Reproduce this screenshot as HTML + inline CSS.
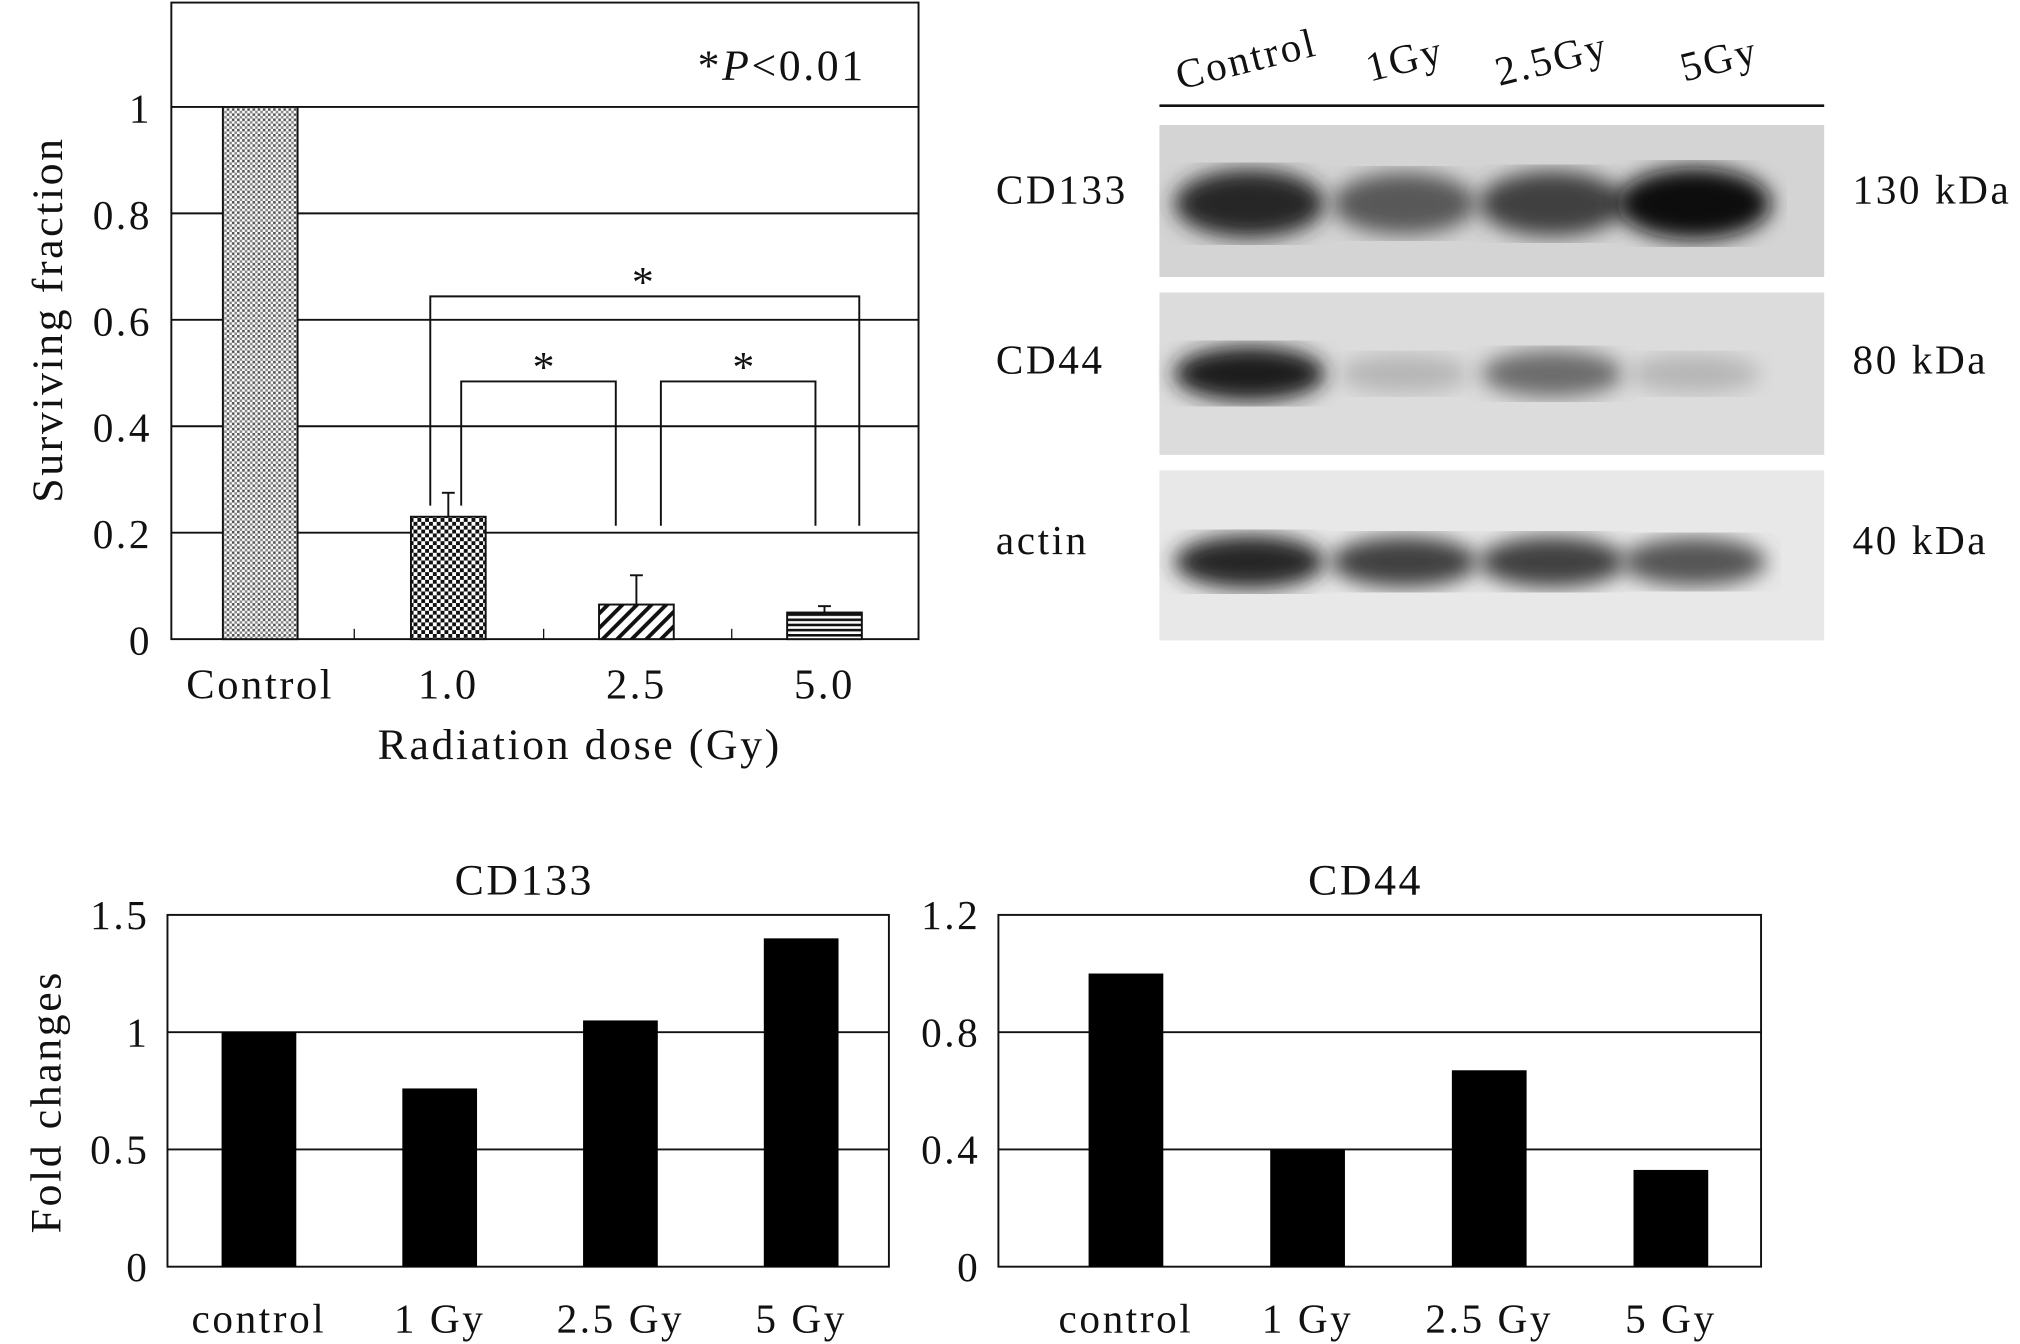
<!DOCTYPE html>
<html><head><meta charset="utf-8"><style>
html,body{margin:0;padding:0;background:#fff}
svg{display:block}
text{font-family:"Liberation Serif",serif;fill:#111;letter-spacing:2px}
</style></head><body>
<svg width="2020" height="1344" viewBox="0 0 1568 1043" preserveAspectRatio="none" xmlns="http://www.w3.org/2000/svg">
<defs>
<pattern id="dots" width="4" height="4" patternUnits="userSpaceOnUse"><rect width="4" height="4" fill="#fff"/><rect width="2" height="2" fill="#555"/><rect x="2" y="2" width="2" height="2" fill="#888"/></pattern>
<pattern id="check" width="6" height="6" patternUnits="userSpaceOnUse"><rect width="6" height="6" fill="#fff"/><rect width="3" height="3" fill="#111"/><rect x="3" y="3" width="3" height="3" fill="#111"/></pattern>
<pattern id="diag" width="8" height="8" patternUnits="userSpaceOnUse" patternTransform="rotate(45)"><rect width="8" height="8" fill="#fff"/><rect width="3" height="8" fill="#111"/></pattern>
<pattern id="horiz" width="4" height="4" patternUnits="userSpaceOnUse"><rect width="4" height="4" fill="#fff"/><rect width="4" height="2" fill="#111"/></pattern>
<filter id="blur"><feGaussianBlur stdDeviation="8"/></filter>
</defs>
<g id="top"></g>
<g id="blot"></g>
<g id="b1"></g>
<g id="b2"></g>
</svg>
<script>
const NS='http://www.w3.org/2000/svg';
function mk(p,tag,a,txt){const e=document.createElementNS(NS,tag);for(const k in a)e.setAttribute(k,a[k]);if(txt!==undefined)e.textContent=txt;p.appendChild(e);return e;}

const topCats=['Control','1.0','2.5','5.0'];
const topVals=[1.0,0.23,0.065,0.05];
const topErr=[0,0.045,0.055,0.012];
const topTicks=['0','0.2','0.4','0.6','0.8','1'];
const topFills=['url(#dots)','url(#check)','url(#diag)','url(#horiz)'];
const cats2=['control','1 Gy','2.5 Gy','5 Gy'];
const cd133Vals=[1.0,0.76,1.05,1.4];
const cd133Ticks=['0','0.5','1','1.5'];
const cd44Vals=[1.0,0.40,0.67,0.33];
const cd44Ticks=['0','0.4','0.8','1.2'];
const blotLanes=['Control','1Gy','2.5Gy','5Gy'];
const cd133Band=[0.85,0.6,0.72,1.0];
const cd44Band=[0.9,0.12,0.5,0.12];
const actinBand=[0.85,0.72,0.72,0.62];

(function(){
const g=document.getElementById('top');
const L=133,R=713,T=2,B=496,Y1=83;
const y=v=>B-v*(B-Y1);
const x=i=>202+i*146;
mk(g,'rect',{x:L,y:T,width:R-L,height:B-T,fill:'none',stroke:'#111','stroke-width':1.5});
topTicks.forEach((t,i)=>{const v=i*0.2;const yy=y(v);
 if(v>0){const l=mk(g,'line',{x1:L,x2:R,y1:yy,y2:yy,stroke:'#111','stroke-width':1.5});}
 const tx=mk(g,'text',{x:118,y:yy+12,'font-size':32,'text-anchor':'end'},t);});
[275,422,568].forEach(xx=>mk(g,'line',{x1:xx,x2:xx,y1:B,y2:B-8,stroke:'#111'}));
topVals.forEach((v,i)=>{const r=mk(g,'rect',{x:x(i)-29,y:y(v),width:58,height:B-y(v),fill:topFills[i],stroke:'#111','stroke-width':1.5});
 
 if(topErr[i]>0){const ye=y(v+topErr[i]);mk(g,'line',{x1:x(i),x2:x(i),y1:y(v),y2:ye,stroke:'#111','stroke-width':1.5});mk(g,'line',{x1:x(i)-5,x2:x(i)+5,y1:ye,y2:ye,stroke:'#111','stroke-width':1.5});}
 const t=mk(g,'text',{x:x(i),y:542,'font-size':33,'text-anchor':'middle'},topCats[i]);});
const br=(x1,x2,yt,y1b,y2b,sx,sy)=>{mk(g,'polyline',{points:`${x1},${y1b} ${x1},${yt} ${x2},${yt} ${x2},${y2b}`,fill:'none',stroke:'#111','stroke-width':1.5});const s=mk(g,'text',{x:sx,y:sy,'font-size':34,'text-anchor':'middle'},'*');};
br(334,667,230,y(0.23+0.045)+10,408,500,230);
br(358,478,296,y(0.23+0.045)+10,408,423,296);
br(513,633,296,408,408,578,296);
const p=mk(g,'text',{x:672,y:62,'font-size':34,'text-anchor':'end'});
p.innerHTML='*<tspan font-style="italic">P</tspan>&lt;0.01';
const yt=mk(g,'text',{x:0,y:0,'font-size':34,'text-anchor':'middle',transform:'translate(48,248) rotate(-90)'},'Surviving fraction');
const xt=mk(g,'text',{x:450,y:589,'font-size':34,'text-anchor':'middle'},'Radiation dose (Gy)');
})();

(function(){
const g=document.getElementById('blot');
const lx=[970,1090,1205,1315];
const hx=[970,1093,1207,1337];
blotLanes.forEach((n,i)=>{const t=mk(g,'text',{x:0,y:0,'font-size':32,'text-anchor':'middle',transform:`translate(${hx[i]},${56}) rotate(-14)`},n);});
mk(g,'line',{x1:900,x2:1416,y1:82,y2:82,stroke:'#111','stroke-width':2});
const panels=[['CD133',97,215,cd133Band,'130 kDa',158,'#d4d4d4'],['CD44',227,353,cd44Band,'80 kDa',290,'#dcdcdc'],['actin',365,497,actinBand,'40 kDa',430,'#e8e8e8']];
panels.forEach(([nm,t,b,band,kd,by,bg])=>{
 const pr=mk(g,'rect',{x:900,y:t,width:516,height:b-t,fill:bg});
 band.forEach((v,i)=>{const c=Math.round(205-195*v);const e=mk(g,'ellipse',{cx:lx[i],cy:by+(nm==='actin'?6:0),rx:50+10*v,ry:nm==='CD133'?18+10*v:14+8*v,fill:`rgb(${c},${c},${c})`,filter:'url(#blur)'});});
 const l=mk(g,'text',{x:773,y:by,'font-size':32},nm);
 const k=mk(g,'text',{x:1438,y:by,'font-size':32},kd);
});
})();

function barChart(id,L,R,c0,dx,title,tcx,vals,ticks,maxV,ylab){
 const g=document.getElementById(id);const T=710,B=983;
 const y=v=>B-v/maxV*(B-T);const x=i=>c0+dx*i;
 mk(g,'rect',{x:L,y:T,width:R-L,height:B-T,fill:'none',stroke:'#111','stroke-width':1.5});
 ticks.forEach((t,i)=>{const v=i*maxV/(ticks.length-1);const yy=y(v);
  if(v>0&&i<ticks.length-1){const l=mk(g,'line',{x1:L,x2:R,y1:yy,y2:yy,stroke:'#111','stroke-width':1.5});}
  const tx=mk(g,'text',{x:L-14,y:yy+11,'font-size':32,'text-anchor':'end'},t);});
 vals.forEach((v,i)=>{const r=mk(g,'rect',{x:x(i)-29,y:y(v),width:58,height:B-y(v),fill:'#000'});
  const t=mk(g,'text',{x:x(i),y:1034,'font-size':32,'text-anchor':'middle'},cats2[i]);});
 const tt=mk(g,'text',{x:tcx,y:694,'font-size':34,'text-anchor':'middle'},title);
 if(ylab){const yt=mk(g,'text',{x:0,y:0,'font-size':34,'text-anchor':'middle',transform:'translate(47,855) rotate(-90)'},ylab);}
}
barChart('b1',130,690,201,140.3,'CD133',407,cd133Vals,cd133Ticks,1.5,'Fold changes');
barChart('b2',775,1367,874,141,'CD44',1060,cd44Vals,cd44Ticks,1.2,null);
</script>
</body></html>
